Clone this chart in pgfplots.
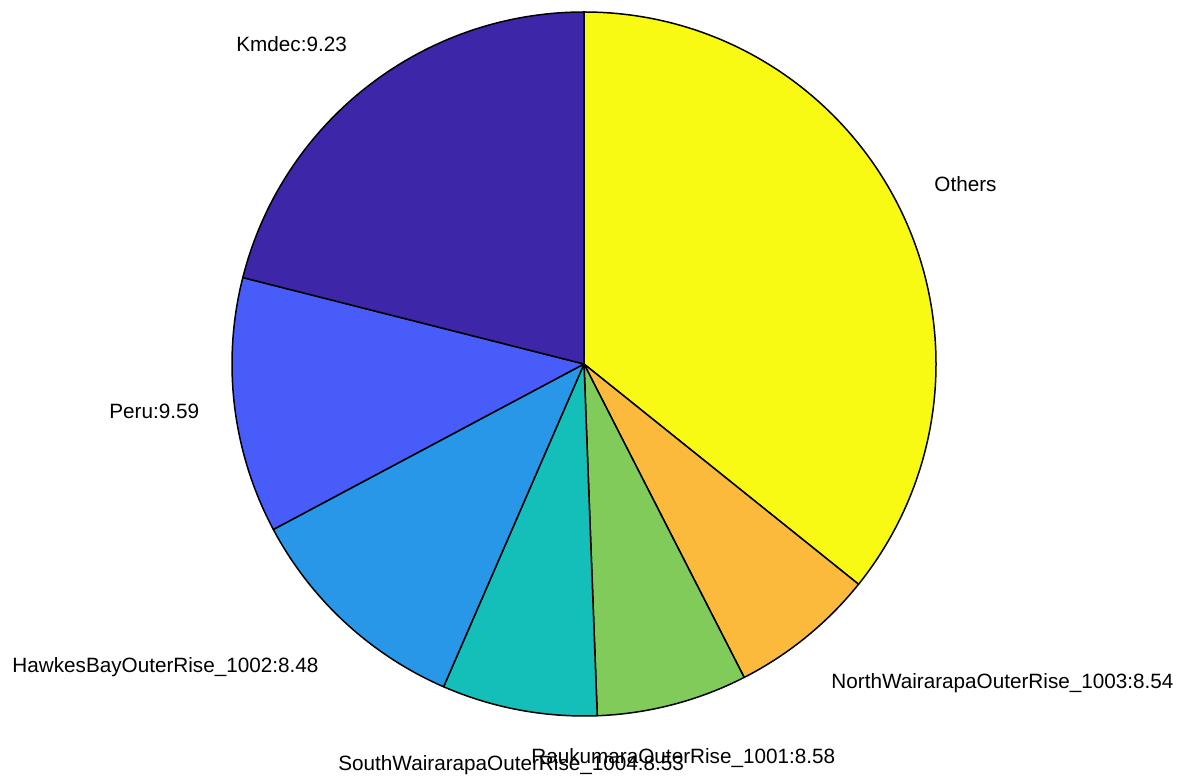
\documentclass[border=0pt]{standalone}
\usepackage{pgfplots}
\pgfplotsset{compat=1.18}
\usepackage{fontspec}
\setmainfont{Liberation Sans}
\definecolor{cKm}{RGB}{62,38,168}
\definecolor{cPe}{RGB}{72,92,250}
\definecolor{cHB}{RGB}{41,151,232}
\definecolor{cSW}{RGB}{20,190,185}
\definecolor{cRa}{RGB}{128,203,90}
\definecolor{cNW}{RGB}{252,186,61}
\definecolor{cOt}{RGB}{248,250,20}
% pie shares in percent (cumulative from the top, clockwise)
% Others 35.76, North 6.72, Raukumara 6.92, South 7.13, HawkesBay 10.68, Peru 11.74, Kmdec 21.05
\newcommand{\slice}[3]{% start cum %, end cum %, colour
  \draw[fill=#3, draw=black, line width=0.75pt, line join=round]
    (axis cs:584,410) -- ++({90-3.6*#1}:176pt)
    arc[start angle={90-3.6*#1}, end angle={90-3.6*#2}, radius=176pt] -- cycle;}
\begin{document}
\begin{tikzpicture}
\begin{axis}[
  scale only axis, width=592pt, height=387pt,
  xmin=0, xmax=1184, ymin=0, ymax=774,
  hide axis, clip=false,
]
\path (axis cs:0,0) rectangle (axis cs:1184,774);
\slice{0}{35.76}{cOt}
\slice{35.76}{42.48}{cNW}
\slice{42.48}{49.40}{cRa}
\slice{49.40}{56.53}{cSW}
\slice{56.53}{67.21}{cHB}
\slice{67.21}{78.95}{cPe}
\slice{78.95}{100}{cKm}
\begin{scope}[every node/.style={anchor=base west, inner sep=0pt, font=\fontsize{10.35}{12}\selectfont}]
\node at (axis cs:236,722) {Kmdec:9.23};
\node at (axis cs:934,582) {Others};
\node at (axis cs:109,355) {Peru:9.59};
\node at (axis cs:12,101) {HawkesBayOuterRise\_1002:8.48};
\node at (axis cs:831,85) {NorthWairarapaOuterRise\_1003:8.54};
\node at (axis cs:338,3) {SouthWairarapaOuterRise\_1004:8.53};
\node at (axis cs:531,10) {RaukumaraOuterRise\_1001:8.58};
\end{scope}
\end{axis}
\end{tikzpicture}
\end{document}
